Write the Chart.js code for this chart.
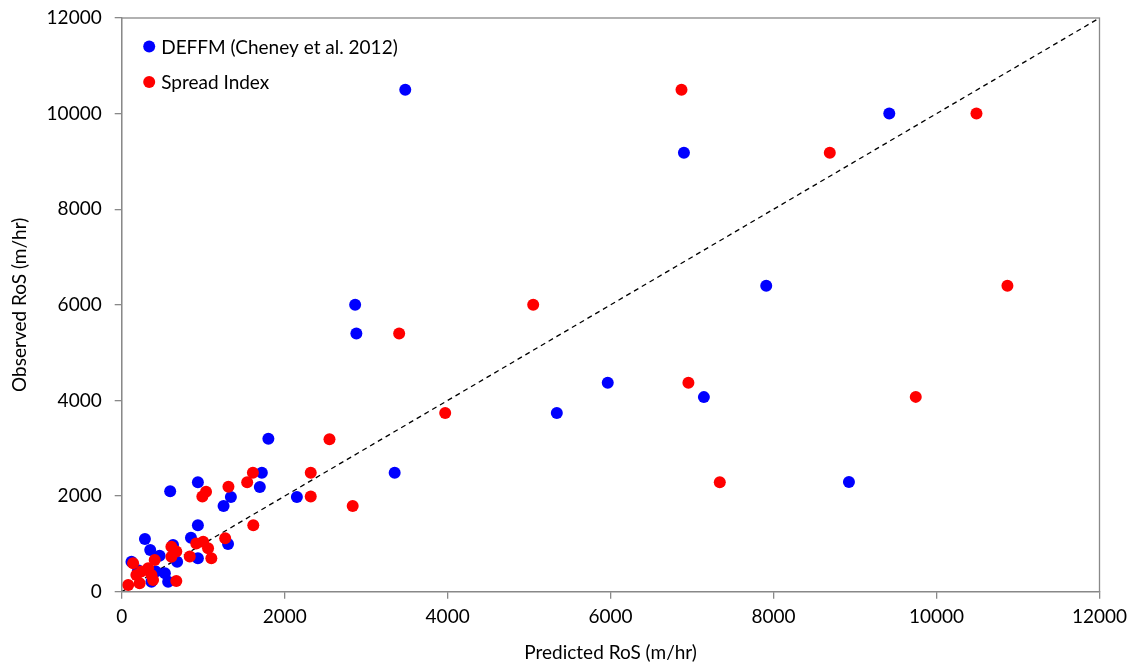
<!DOCTYPE html>
<html>
<head>
<meta charset="utf-8">
<script src="https://cdn.jsdelivr.net/npm/chart.js@4/dist/chart.umd.min.js"></script>
<style>
  html, body { margin: 0; padding: 0; background: #fff; }
  #wrap { width: 1135px; height: 664px; position: relative; }
</style>
</head>
<body>
<div id="wrap"><canvas id="c"></canvas></div>
<script>
// Series: DEFFM (Cheney et al. 2012) — predicted (x) vs observed (y), m/hr
const deffmPredicted = [3480, 9420, 6900, 7910, 2865, 2880, 5965, 7145, 5340, 1800, 3350, 8925, 1720, 1695, 935, 595, 1340, 2150, 1250, 935, 850, 285, 630, 1305, 350, 465, 935, 120, 680, 530, 570, 365, 200, 420];
const deffmObserved  = [10500, 10000, 9180, 6400, 6000, 5400, 4370, 4070, 3740, 3200, 2490, 2295, 2490, 2190, 2290, 2100, 1980, 1980, 1795, 1390, 1130, 1100, 975, 1000, 870, 750, 700, 625, 625, 385, 210, 210, 450, 420];

// Series: Spread Index
const spreadPredicted = [6870, 10490, 8690, 10870, 5050, 3405, 6955, 9745, 3970, 2550, 1610, 2320, 1540, 1310, 1035, 990, 2320, 2835, 7340, 1615, 1270, 1000, 915, 610, 670, 1060, 610, 835, 1100, 140, 405, 325, 240, 180, 365, 220, 385, 80, 670];
const spreadObserved  = [10500, 10000, 9180, 6400, 6000, 5400, 4370, 4075, 3740, 3190, 2490, 2490, 2290, 2195, 2090, 1990, 1990, 1795, 2290, 1390, 1120, 1045, 1010, 940, 840, 910, 730, 735, 700, 595, 665, 490, 420, 350, 350, 175, 245, 140, 225];

// 1:1 line and axis settings
const oneToOne = [0, 12000];
const axisMin = 0, axisMax = 12000, axisStep = 2000;
const seriesNames = ['DEFFM (Cheney et al. 2012)', 'Spread Index'];
const xTitle = 'Predicted RoS (m/hr)';
const yTitle = 'Observed RoS (m/hr)';

const toPts = (xs, ys) => xs.map((x, i) => ({ x: x, y: ys[i] }));

const FONT = 'Lato, "Liberation Sans", sans-serif';
const AXIS_GREY = '#898989';

const frameAndLegend = {
  id: 'frameAndLegend',
  afterDatasetsDraw(chart) {
    const { ctx, chartArea: a } = chart;
    ctx.save();
    ctx.strokeStyle = AXIS_GREY;
    ctx.lineWidth = 1.3;
    ctx.strokeRect(a.left, a.top, a.right - a.left, a.bottom - a.top);
    const items = [
      { label: seriesNames[0], color: '#0000FF' },
      { label: seriesNames[1], color: '#FF0000' }
    ];
    ctx.font = '19px ' + FONT;
    ctx.textBaseline = 'middle';
    ctx.textAlign = 'left';
    items.forEach((it, i) => {
      const cy = a.top + 28.5 + i * 35.5;
      const cx = a.left + 27.5;
      ctx.beginPath();
      ctx.fillStyle = it.color;
      ctx.arc(cx, cy, 6, 0, Math.PI * 2);
      ctx.fill();
      ctx.fillStyle = '#000';
      ctx.fillText(it.label, cx + 12, cy + 1);
    });
    ctx.restore();
  }
};

const plainTick = (v) => String(v);

new Chart(document.getElementById('c'), {
  data: {
    datasets: [
      {
        type: 'line',
        label: '1:1',
        data: toPts(oneToOne, oneToOne),
        borderColor: '#000',
        borderWidth: 1.3,
        borderDash: [5, 4],
        pointRadius: 0,
        fill: false,
        order: 3
      },
      {
        type: 'scatter',
        label: seriesNames[0],
        data: toPts(deffmPredicted, deffmObserved),
        backgroundColor: '#0000FF',
        borderWidth: 0,
        pointRadius: 6,
        order: 2
      },
      {
        type: 'scatter',
        label: seriesNames[1],
        data: toPts(spreadPredicted, spreadObserved),
        backgroundColor: '#FF0000',
        borderWidth: 0,
        pointRadius: 6,
        order: 1
      }
    ]
  },
  options: {
    responsive: true,
    maintainAspectRatio: false,
    animation: false,
    layout: { autoPadding: false, padding: { left: 0, right: 35.5, top: 18, bottom: 0 } },
    plugins: { legend: { display: false }, tooltip: { enabled: false } },
    scales: {
      x: {
        type: 'linear',
        min: axisMin, max: axisMax,
        ticks: { stepSize: axisStep, color: '#000', font: { family: FONT, size: 19 }, padding: 7, maxRotation: 0, callback: plainTick },
        grid: { display: true, drawOnChartArea: false, drawTicks: true, tickLength: 7, color: AXIS_GREY, lineWidth: 1.3 },
        border: { display: true, color: AXIS_GREY, width: 1.3 },
        title: { display: true, text: xTitle, color: '#000', font: { family: FONT, size: 19 }, padding: { top: 0, bottom: 0 } },
        afterFit(scale) { scale.height = 72.3; scale.paddingLeft = 0; scale.paddingRight = 0; }
      },
      y: {
        type: 'linear',
        min: axisMin, max: axisMax,
        ticks: { stepSize: axisStep, color: '#000', font: { family: FONT, size: 19 }, padding: 13, callback: plainTick },
        grid: { display: true, drawOnChartArea: false, drawTicks: true, tickLength: 7, color: AXIS_GREY, lineWidth: 1.3 },
        border: { display: true, color: AXIS_GREY, width: 1.3 },
        title: { display: true, text: yTitle, color: '#000', font: { family: FONT, size: 19 }, padding: { top: 8, bottom: 0 } },
        afterFit(scale) { scale.width = 121.7; scale.paddingTop = 0; scale.paddingBottom = 0; }
      }
    }
  },
  plugins: [frameAndLegend]
});
</script>
</body>
</html>
